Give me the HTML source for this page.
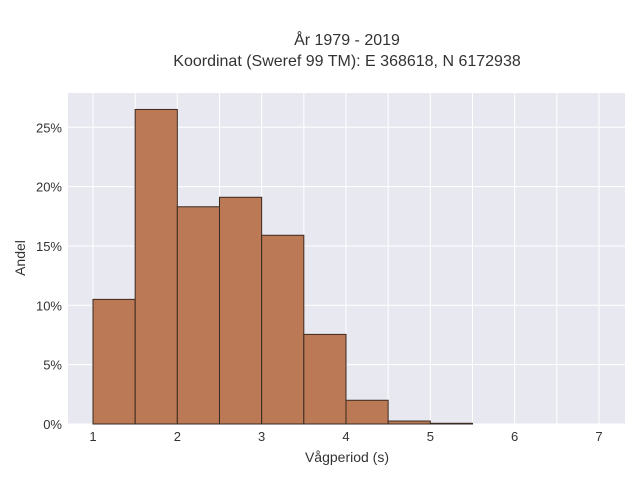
<!DOCTYPE html>
<html><head><meta charset="utf-8"><style>
body{margin:0;background:#fff}
svg{display:block;font-family:"Liberation Sans",sans-serif}
</style></head><body>
<svg id="c" width="640" height="480">
<rect width="640" height="480" fill="#fff"/>
<text x="347" y="45" text-anchor="middle" font-size="16" fill="#333">År 1979 - 2019</text>
<text x="347" y="66" text-anchor="middle" font-size="16" fill="#333">Koordinat (Sweref 99 TM): E 368618, N 6172938</text>
<rect x="68" y="93" width="557" height="331" fill="#e8e8f0"/>
<g id="grid"></g><g id="bars"></g><g id="ticks"></g>
<text x="347" y="462" text-anchor="middle" font-size="14" fill="#333">Vågperiod (s)</text>
<text transform="translate(25,258) rotate(-90)" text-anchor="middle" font-size="14" fill="#333">Andel</text>
</svg>
<script>
const binStarts=[1,1.5,2,2.5,3,3.5,4,4.5,5];
const binWidth=0.5;
const shares=[10.5,26.5,18.3,19.1,15.9,7.55,2.0,0.25,0.06];
const xTicks=[1,2,3,4,5,6,7];
const yTicks=[0,5,10,15,20,25];
const ns="http://www.w3.org/2000/svg";
const X=v=>93+(v-1)*84.33;
const Y=v=>424-v*11.87;
function mk(t,a,p){const e=document.createElementNS(ns,t);for(const k in a)e.setAttribute(k,a[k]);p.appendChild(e);return e;}
const g=document.getElementById('grid'),b=document.getElementById('bars'),tk=document.getElementById('ticks');
for(let v=1;v<=7;v+=0.5){const l=mk('line',{x1:X(v),x2:X(v),y1:93,y2:424,stroke:'#fff','stroke-width':1},g);

}
yTicks.forEach(v=>{const l=mk('line',{x1:68,x2:625,y1:Y(v),y2:Y(v),stroke:'#fff','stroke-width':1},g);


const t=mk('text',{x:62,y:Y(v)+5,'text-anchor':'end','font-size':13,fill:'#333'},tk);t.textContent=v+'%';

});
xTicks.forEach(v=>{const t=mk('text',{x:X(v),y:441,'text-anchor':'middle','font-size':13,fill:'#333'},tk);t.textContent=v;

});
binStarts.forEach((s,i)=>{const y=Y(shares[i]);const r=mk('rect',{x:X(s),y:y,width:X(s+binWidth)-X(s),height:424-y,fill:'#bb7a55',stroke:'#3a2a20','stroke-width':1},b);

});
</script>
</body></html>
